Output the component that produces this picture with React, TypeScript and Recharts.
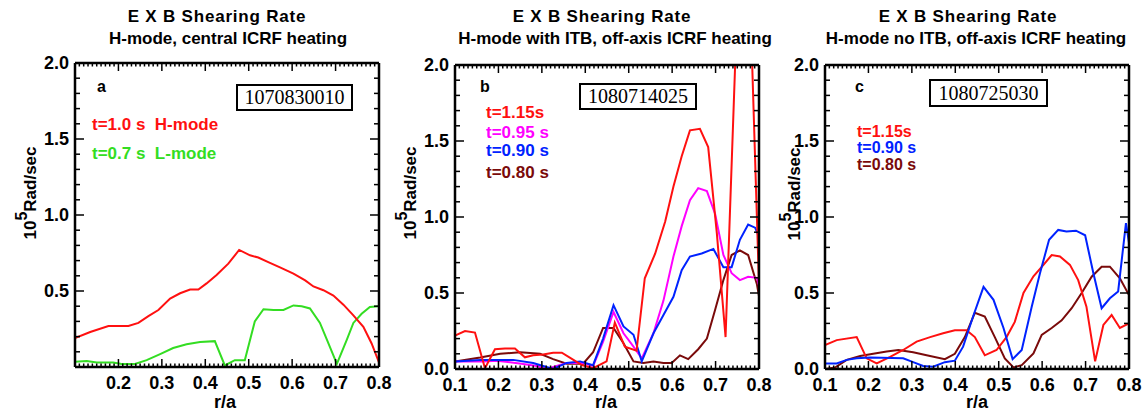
import React from 'react';
import { LineChart, Line, XAxis, YAxis } from 'recharts';

const SANS = '"Liberation Sans", Arial, Helvetica, sans-serif';
const SERIF = '"Liberation Serif", "Times New Roman", serif';

// tick labels
const xLabelsA = [0.2, 0.3, 0.4, 0.5, 0.6, 0.7, 0.8];
const yLabelsA = [0.5, 1.0, 1.5, 2.0];
const xLabelsBC = [0.1, 0.2, 0.3, 0.4, 0.5, 0.6, 0.7, 0.8];
const yLabelsBC = [0.0, 0.5, 1.0, 1.5, 2.0];

// minor tick grid (IDL style: 0.01 on r/a, 0.1 on rate)
const xMinor = Array.from({ length: 71 }, (_, i) => (10 + i) / 100);
const yMinor = Array.from({ length: 21 }, (_, i) => i / 10);

// panel a, shot 1070830010: [r/a, 10^5 rad/s]
const aHmode: [number, number][] = [
  [0.1, 0.19], [0.135, 0.23], [0.177, 0.27], [0.223, 0.27], [0.246, 0.29], [0.269, 0.335],
  [0.292, 0.375], [0.319, 0.45], [0.342, 0.485], [0.365, 0.51], [0.384, 0.51], [0.403, 0.55],
  [0.426, 0.605], [0.453, 0.68], [0.478, 0.77], [0.503, 0.735], [0.522, 0.72], [0.545, 0.69],
  [0.572, 0.655], [0.603, 0.615], [0.63, 0.57], [0.649, 0.53], [0.672, 0.505], [0.695, 0.47],
  [0.718, 0.41], [0.741, 0.34], [0.764, 0.265], [0.783, 0.155], [0.8, 0.03],
];
const aLmode: [number, number][] = [
  [0.1, 0.035], [0.127, 0.04], [0.15, 0.03], [0.188, 0.03], [0.207, 0.02], [0.238, 0.02],
  [0.265, 0.045], [0.296, 0.085], [0.326, 0.125], [0.357, 0.15], [0.388, 0.165], [0.422, 0.17],
  [0.445, 0.01], [0.468, 0.045], [0.491, 0.045], [0.514, 0.3], [0.534, 0.38], [0.557, 0.375],
  [0.58, 0.375], [0.603, 0.405], [0.622, 0.4], [0.641, 0.385], [0.664, 0.29], [0.68, 0.18],
  [0.703, 0.02], [0.726, 0.18], [0.741, 0.29], [0.76, 0.35], [0.779, 0.395], [0.8, 0.4],
];

// panel b, shot 1080714025
const b115: [number, number][] = [
  [0.1, 0.22], [0.123, 0.25], [0.146, 0.24], [0.169, 0.005], [0.192, 0.13], [0.215, 0.135],
  [0.238, 0.135], [0.261, 0.077], [0.28, 0.09], [0.303, 0.095], [0.326, 0.107], [0.346, 0.107],
  [0.369, 0.066], [0.392, 0.026], [0.418, 0.005], [0.449, 0.05], [0.468, 0.305], [0.491, 0.147],
  [0.518, 0.12], [0.537, 0.597], [0.561, 0.76], [0.584, 0.97], [0.603, 1.2], [0.622, 1.4],
  [0.641, 1.57], [0.664, 1.58], [0.683, 1.46], [0.703, 0.89], [0.723, 0.21], [0.766, 3.7],
  [0.8, 0.55],
];
const b095: [number, number][] = [
  [0.1, 0.05], [0.165, 0.05], [0.196, 0.055], [0.257, 0.033], [0.288, 0.02], [0.311, 0.0],
  [0.334, 0.02], [0.357, 0.04], [0.395, 0.04], [0.418, 0.02], [0.441, 0.18], [0.465, 0.375],
  [0.488, 0.235], [0.511, 0.147], [0.53, 0.07], [0.557, 0.235], [0.58, 0.45], [0.603, 0.74],
  [0.622, 0.94], [0.641, 1.11], [0.66, 1.19], [0.68, 1.17], [0.699, 1.02], [0.718, 0.75],
  [0.737, 0.63], [0.756, 0.585], [0.775, 0.607], [0.795, 0.6], [0.8, 0.55],
];
const b090: [number, number][] = [
  [0.1, 0.05], [0.158, 0.06], [0.234, 0.06], [0.28, 0.04], [0.303, 0.02], [0.326, 0.0],
  [0.357, 0.04], [0.388, 0.05], [0.418, 0.025], [0.441, 0.2], [0.465, 0.42], [0.488, 0.28],
  [0.511, 0.225], [0.53, 0.05], [0.557, 0.235], [0.58, 0.355], [0.603, 0.475], [0.622, 0.65],
  [0.641, 0.74], [0.668, 0.76], [0.695, 0.79], [0.718, 0.67], [0.737, 0.67], [0.756, 0.85],
  [0.775, 0.95], [0.791, 0.93], [0.8, 0.87],
];
const b080: [number, number][] = [
  [0.1, 0.05], [0.158, 0.075], [0.204, 0.1], [0.25, 0.11], [0.296, 0.1], [0.326, 0.065],
  [0.357, 0.035], [0.395, 0.035], [0.418, 0.11], [0.441, 0.27], [0.465, 0.27], [0.488, 0.17],
  [0.511, 0.05], [0.534, 0.04], [0.557, 0.05], [0.58, 0.04], [0.599, 0.04], [0.618, 0.09],
  [0.637, 0.065], [0.66, 0.13], [0.68, 0.2], [0.699, 0.39], [0.718, 0.585], [0.737, 0.75],
  [0.756, 0.78], [0.775, 0.75], [0.795, 0.56], [0.8, 0.48],
];

// panel c, shot 1080725030
const c115: [number, number][] = [
  [0.1, 0.158], [0.127, 0.19], [0.173, 0.21], [0.196, 0.07], [0.219, 0.037], [0.25, 0.08],
  [0.28, 0.125], [0.311, 0.18], [0.342, 0.21], [0.372, 0.235], [0.399, 0.255], [0.426, 0.255],
  [0.445, 0.21], [0.468, 0.09], [0.495, 0.125], [0.518, 0.21], [0.537, 0.31], [0.557, 0.5],
  [0.58, 0.61], [0.603, 0.685], [0.622, 0.75], [0.641, 0.74], [0.664, 0.685], [0.683, 0.585],
  [0.702, 0.41], [0.722, 0.05], [0.741, 0.29], [0.76, 0.355], [0.779, 0.27], [0.8, 0.3],
];
const c090: [number, number][] = [
  [0.1, 0.037], [0.127, 0.037], [0.15, 0.06], [0.173, 0.07], [0.204, 0.075], [0.28, 0.07],
  [0.303, 0.045], [0.326, 0.02], [0.349, 0.015], [0.376, 0.045], [0.399, 0.055], [0.418, 0.147],
  [0.441, 0.345], [0.465, 0.54], [0.488, 0.455], [0.511, 0.27], [0.532, 0.065], [0.553, 0.125],
  [0.576, 0.41], [0.595, 0.63], [0.616, 0.85], [0.637, 0.915], [0.656, 0.905], [0.678, 0.91],
  [0.699, 0.88], [0.718, 0.63], [0.737, 0.4], [0.756, 0.465], [0.775, 0.51], [0.793, 0.96],
  [0.8, 0.83],
];
const c080: [number, number][] = [
  [0.1, 0.0], [0.123, 0.01], [0.15, 0.06], [0.181, 0.085], [0.211, 0.1], [0.242, 0.115],
  [0.269, 0.125], [0.303, 0.11], [0.334, 0.09], [0.376, 0.065], [0.399, 0.1], [0.422, 0.21],
  [0.445, 0.37], [0.468, 0.345], [0.491, 0.21], [0.514, 0.07], [0.534, 0.01], [0.553, 0.025],
  [0.58, 0.103], [0.599, 0.225], [0.622, 0.27], [0.645, 0.32], [0.668, 0.4], [0.691, 0.5],
  [0.714, 0.607], [0.737, 0.673], [0.756, 0.673], [0.779, 0.597], [0.8, 0.487],
];

const RED = '#ff1010';
const GREEN = '#33dd22';
const MAGENTA = '#ff00ff';
const BLUE = '#0022ff';
const BROWN = '#7a0a0a';

type Series = { pts: [number, number][]; color: string };
type Panel = {
  left: number;
  width: number;
  margin: { top: number; right: number; bottom: number; left: number };
  xLabels: number[];
  yLabels: number[];
  series: Series[];
};

const near = (a: number, b: number) => Math.abs(a - b) < 1e-6;
const onStep = (v: number, step: number) => near(v / step, Math.round(v / step));
const tickFont = { fontFamily: SANS, fontWeight: 700, fontSize: 18 };

function BottomTick(props: any) {
  const { x, y, payload, labels } = props;
  const v = payload.value;
  const major = onStep(v, 0.1);
  const show = major && labels.some((l: number) => near(l, v));
  return (
    <g>
      <line x1={x} x2={x} y1={y} y2={y - (major ? 8 : 3.5)} stroke="#000" strokeWidth={1.5} />
      {show && (
        <text x={x} y={y + 16} textAnchor="middle" dominantBaseline="central" fill="#000" style={tickFont}>
          {v.toFixed(1)}
        </text>
      )}
    </g>
  );
}

function TopTick(props: any) {
  const { x, y, payload } = props;
  const major = onStep(payload.value, 0.1);
  return <line x1={x} x2={x} y1={y} y2={y + (major ? 8 : 3.5)} stroke="#000" strokeWidth={1.5} />;
}

function LeftTick(props: any) {
  const { x, y, payload, labels } = props;
  const v = payload.value;
  const major = onStep(v, 0.5);
  const show = major && labels.some((l: number) => near(l, v));
  return (
    <g>
      <line x1={x} x2={x + (major ? 9 : 5)} y1={y} y2={y} stroke="#000" strokeWidth={1.5} />
      {show && (
        <text x={x - 6} y={y} textAnchor="end" dominantBaseline="central" fill="#000" style={tickFont}>
          {v.toFixed(1)}
        </text>
      )}
    </g>
  );
}

function RightTick(props: any) {
  const { x, y, payload } = props;
  const major = onStep(payload.value, 0.5);
  return <line x1={x} x2={x - (major ? 9 : 5)} y1={y} y2={y} stroke="#000" strokeWidth={1.5} />;
}

const frame = { stroke: '#000', strokeWidth: 2.5 };

function ShearPanel({ p }: { p: Panel }) {
  // axes get 1px of room each (a 0px axis is not drawn), so the margins give that pixel back
  const m = { top: p.margin.top - 1, right: p.margin.right - 1, bottom: p.margin.bottom - 1, left: p.margin.left - 1 };
  return (
    <div style={{ position: 'absolute', left: p.left, top: 0 }}>
      <LineChart width={p.width} height={414} margin={m}>
        <XAxis
          type="number" dataKey="r" domain={[0.1, 0.8]} ticks={xMinor} interval={0}
          allowDataOverflow height={1} tickSize={0} tickMargin={0} tickLine={false} axisLine={frame}
          tick={(t: any) => <BottomTick {...t} labels={p.xLabels} />}
        />
        <XAxis
          xAxisId="top" orientation="top" type="number" dataKey="r" domain={[0.1, 0.8]} ticks={xMinor}
          interval={0} allowDataOverflow height={1} tickSize={0} tickMargin={0} tickLine={false}
          axisLine={frame} tick={(t: any) => <TopTick {...t} />}
        />
        <YAxis
          type="number" domain={[0, 2]} ticks={yMinor} interval={0} allowDataOverflow width={1}
          tickSize={0} tickMargin={0} tickLine={false} axisLine={frame}
          tick={(t: any) => <LeftTick {...t} labels={p.yLabels} />}
        />
        <YAxis
          yAxisId="right" orientation="right" type="number" domain={[0, 2]} ticks={yMinor} interval={0}
          allowDataOverflow width={1} tickSize={0} tickMargin={0} tickLine={false} axisLine={frame}
          tick={(t: any) => <RightTick {...t} />}
        />
        {p.series.map((s, i) => (
          <Line
            key={i}
            data={s.pts.map(([r, v]) => ({ r, v }))}
            dataKey="v"
            type="linear"
            stroke={s.color}
            strokeWidth={2}
            dot={false}
            isAnimationActive={false}
          />
        ))}
      </LineChart>
    </div>
  );
}

const panels: Panel[] = [
  {
    left: 0, width: 400, margin: { top: 63, right: 21, bottom: 47, left: 75 },
    xLabels: xLabelsA, yLabels: yLabelsA,
    series: [{ pts: aLmode, color: GREEN }, { pts: aHmode, color: RED }],
  },
  {
    left: 380, width: 400, margin: { top: 65, right: 21, bottom: 45, left: 75 },
    xLabels: xLabelsBC, yLabels: yLabelsBC,
    series: [
      { pts: b080, color: BROWN }, { pts: b095, color: MAGENTA },
      { pts: b090, color: BLUE }, { pts: b115, color: RED },
    ],
  },
  {
    left: 760, width: 386, margin: { top: 65, right: 17, bottom: 45, left: 65 },
    xLabels: xLabelsBC, yLabels: yLabelsBC,
    series: [{ pts: c080, color: BROWN }, { pts: c115, color: RED }, { pts: c090, color: BLUE }],
  },
];

function Txt({ x, y, children, color = '#000', size = 17, align = 'left', lh = 1, ls = 0 }: any) {
  const tx = align === 'center' ? '-50%' : '0';
  return (
    <div
      style={{
        position: 'absolute', left: x, top: y, transform: `translate(${tx}, -50%)`,
        whiteSpace: 'nowrap', fontFamily: SANS, fontWeight: 700, fontSize: size, color,
        lineHeight: lh, letterSpacing: ls,
      }}
    >
      {children}
    </div>
  );
}

function ShotBox({ x, y, w, h, text }: any) {
  return (
    <div
      style={{
        position: 'absolute', left: x, top: y, width: w, height: h, boxSizing: 'border-box',
        border: '2px solid #000', background: '#fff', display: 'flex', alignItems: 'center',
        justifyContent: 'center', fontFamily: SERIF, fontSize: 20, color: '#000',
      }}
    >
      {text}
    </div>
  );
}

function YLabel({ x, y }: { x: number; y: number }) {
  return (
    <div
      style={{
        position: 'absolute', left: x, top: y, transform: 'translate(-50%, -50%) rotate(-90deg)',
        whiteSpace: 'nowrap', fontFamily: SANS, fontWeight: 700, fontSize: 17, color: '#000', lineHeight: 1,
      }}
    >
      10<span style={{ fontSize: 16, position: 'relative', top: -9 }}>5</span>Rad/sec
    </div>
  );
}

export default function App() {
  return (
    <div style={{ position: 'fixed', left: 0, top: 0, width: 1146, height: 414, background: '#fff', overflow: 'hidden' }}>
      {panels.map((p, i) => (
        <ShearPanel key={i} p={p} />
      ))}

      <Txt x={217} y={16} align="center" ls={0.8}>E X B Shearing Rate</Txt>
      <Txt x={228} y={38} align="center">H-mode, central ICRF heating</Txt>
      <Txt x={602} y={16} align="center" ls={0.8}>E X B Shearing Rate</Txt>
      <Txt x={615} y={38} align="center">H-mode with ITB, off-axis ICRF heating</Txt>
      <Txt x={968} y={16} align="center" ls={0.8}>E X B Shearing Rate</Txt>
      <Txt x={976} y={38} align="center">H-mode no ITB, off-axis ICRF heating</Txt>

      <YLabel x={30} y={193} />
      <YLabel x={410} y={193} />
      <YLabel x={794} y={194} />

      <Txt x={225} y={402} size={18} align="center">r/a</Txt>
      <Txt x={606} y={402} size={18} align="center">r/a</Txt>
      <Txt x={977} y={402} size={18} align="center">r/a</Txt>

      <Txt x={97} y={87} size={16}>a</Txt>
      <Txt x={480} y={87} size={16}>b</Txt>
      <Txt x={855} y={87} size={16}>c</Txt>

      <ShotBox x={236} y={84} w={117} h={27} text="1070830010" />
      <ShotBox x={579} y={83} w={118} h={27} text="1080714025" />
      <ShotBox x={929} y={79} w={119} h={28} text="1080725030" />

      <Txt x={92} y={124} color={RED}>t=1.0 s&nbsp; H-mode</Txt>
      <Txt x={92} y={153} color={GREEN}>t=0.7 s&nbsp; L-mode</Txt>

      <Txt x={486} y={112} color={RED}>t=1.15s</Txt>
      <Txt x={486} y={132} color={MAGENTA}>t=0.95 s</Txt>
      <Txt x={486} y={150} color={BLUE}>t=0.90 s</Txt>
      <Txt x={486} y={172} color={BROWN}>t=0.80 s</Txt>

      <Txt x={857} y={131} color={RED} size={16} lh="13px">t=1.15s</Txt>
      <Txt x={857} y={147} color={BLUE} size={16} lh="13px">t=0.90 s</Txt>
      <Txt x={857} y={164} color={BROWN} size={16} lh="13px">t=0.80 s</Txt>
    </div>
  );
}
